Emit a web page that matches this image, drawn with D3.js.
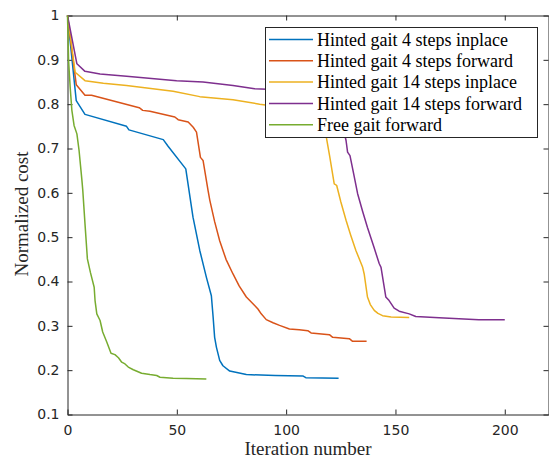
<!DOCTYPE html>
<html>
<head>
<meta charset="utf-8">
<script src="https://cdn.jsdelivr.net/npm/d3@7"></script>
<style>
body { margin: 0; background: #fff; }
.tick text { font-family: "DejaVu Sans", sans-serif; font-size: 14px; fill: #262626; }
</style>
</head>
<body>
<div id="chart-area"></div>
<script>
var width = 549,
	height = 458;
var serifFont = "'Liberation Serif', 'Times New Roman', Times, 'DejaVu Serif', serif";

var seriesNames = ["Hinted gait 4 steps inplace", "Hinted gait 4 steps forward",
	"Hinted gait 14 steps inplace", "Hinted gait 14 steps forward", "Free gait forward"];
var colors = ["#0072BD", "#D95319", "#EDB120", "#7E2F8E", "#77AC30"];

var xTicks = [0, 50, 100, 150, 200];
var yTicks = [0.1, 0.2, 0.3, 0.4, 0.5, 0.6, 0.7, 0.8, 0.9, 1];

// [iteration, normalized cost]
var blue = [[0,1],[4,0.808],[8,0.777],[27,0.75],[28.1,0.742],[43.8,0.72],[46,0.705],[54.1,0.654],
	[57.4,0.545],[60.5,0.47],[63.5,0.41],[65.8,0.368],[66.6,0.32],[67.3,0.274],[68.1,0.252],[69.6,0.222],
	[71.1,0.21],[74.2,0.198],[81.8,0.19],[95,0.188],[107.6,0.187],[109,0.183],[124,0.182]];
var orange = [[0,1],[4,0.844],[8,0.82],[11,0.82],[32.8,0.792],[34.4,0.786],[37.7,0.784],[49.1,0.771],
	[50.6,0.765],[55.2,0.76],[57.5,0.748],[59,0.737],[60.8,0.68],[62,0.673],[64.3,0.605],[65.1,0.583],
	[67.3,0.535],[69.6,0.492],[72.5,0.45],[75.7,0.417],[78.5,0.39],[81.8,0.365],[85.6,0.346],[87.1,0.338],
	[88.6,0.327],[90.9,0.314],[94,0.307],[97,0.301],[101.5,0.293],[106,0.291],[109.9,0.289],[111.4,0.284],
	[119.8,0.28],[121.3,0.274],[128.9,0.271],[130.4,0.265],[136.8,0.265]];
var yellow = [[0,1],[3.5,0.872],[8,0.853],[16.4,0.847],[27,0.842],[48.3,0.829],[60.5,0.817],[75.7,0.81],
	[87.9,0.8],[100,0.792],[110,0.785],[114,0.775],[116.5,0.76],[118.3,0.728],[120,0.68],[122,0.62],
	[123.1,0.617],[125,0.58],[127.4,0.538],[129.5,0.505],[131.9,0.47],[135,0.432],[135.7,0.417],
	[137.2,0.365],[138.5,0.348],[140.3,0.335],[142,0.328],[144.1,0.323],[148,0.32],[156.3,0.319]];
var purple = [[0,1],[4.3,0.891],[8,0.874],[14.9,0.868],[27,0.863],[49.9,0.853],[62,0.85],[75.7,0.842],
	[85.6,0.835],[100,0.832],[115,0.825],[121,0.81],[124.5,0.78],[127.4,0.718],[128.1,0.692],[129.2,0.684],
	[130.8,0.645],[132.7,0.598],[135,0.558],[137.2,0.522],[140,0.48],[142.6,0.44],[143.4,0.432],
	[145.6,0.365],[147.1,0.357],[149.4,0.34],[151.7,0.333],[156.3,0.327],[159.3,0.321],[170,0.318],
	[188.1,0.314],[200,0.314]];
var green = [[0,1],[0.5,0.898],[1.2,0.84],[2,0.786],[3,0.752],[4.3,0.733],[5.3,0.695],[6.6,0.628],[7,0.605],
	[8,0.53],[9.1,0.451],[10.5,0.42],[12.2,0.387],[12.6,0.357],[13.4,0.327],[14.9,0.312],[16.1,0.286],
	[18,0.263],[19.9,0.238],[21.7,0.235],[23.3,0.228],[24.8,0.218],[26.3,0.214],[27.8,0.207],[30.1,0.201],
	[33.9,0.193],[37.7,0.19],[40.8,0.188],[42.3,0.184],[48.3,0.182],[54.4,0.181],[63.5,0.18]];

var series = [blue, orange, yellow, purple, green];

var svg = d3.select("#chart-area").append("svg")
	.attr("width", width)
	.attr("height", height);

var x = d3.scaleLinear().domain([0, 220]).range([67.5, 548.5]);
var y = d3.scaleLinear().domain([0.1, 1]).range([414.5, 15.5]);

// axes (ticks point inward)
var xAxis = d3.axisBottom(x).tickValues(xTicks).tickSizeInner(-5).tickSizeOuter(0).tickPadding(11);
var yAxis = d3.axisLeft(y).tickValues(yTicks).tickSizeInner(-5).tickSizeOuter(0).tickPadding(8)
	.tickFormat(function(d) { return d === 1 ? "1" : d3.format(".1f")(d); });

svg.append("g").attr("transform", "translate(0," + y(0.1) + ")").call(xAxis);
svg.append("g").attr("transform", "translate(" + x(0) + ",0)").call(yAxis);
svg.append("g").attr("transform", "translate(0," + y(1) + ")")
	.call(d3.axisTop(x).tickValues(xTicks).tickSizeInner(-5).tickSizeOuter(0).tickFormat(""));
svg.append("g").attr("transform", "translate(" + x(220) + ",0)")
	.call(d3.axisRight(y).tickValues(yTicks).tickSizeInner(-5).tickSizeOuter(0).tickFormat(""));

svg.selectAll(".domain, .tick line").attr("stroke", "#262626");

// lines
var line = d3.line().x(function(d) { return x(d[0]); }).y(function(d) { return y(d[1]); });

svg.selectAll("path.series")
	.data(series)
	.enter()
	.append("path")
	.attr("class", "series")
	.attr("d", line)
	.attr("fill", "none")
	.attr("stroke", function(d, i) { return colors[i]; })
	.attr("stroke-width", 1.5)
	.attr("stroke-linejoin", "round");

// axis labels
svg.append("text")
	.attr("font-family", serifFont)
	.attr("font-size", 19)
	.attr("fill", "#262626")
	.attr("text-anchor", "middle")
	.attr("x", 308)
	.attr("y", 455)
	.text("Iteration number");

svg.append("text")
	.attr("font-family", serifFont)
	.attr("font-size", 19)
	.attr("fill", "#262626")
	.attr("text-anchor", "middle")
	.attr("transform", "translate(28,214) rotate(-90)")
	.text("Normalized cost");

// legend
var legend = svg.append("g");
legend.append("rect")
	.attr("x", 265.5).attr("y", 27.5)
	.attr("width", 272).attr("height", 110)
	.attr("fill", "#fff")
	.attr("stroke", "#262626");

var rows = legend.selectAll("g.row")
	.data(seriesNames)
	.enter()
	.append("g")
	.attr("class", "row")
	.attr("transform", function(d, i) { return "translate(0," + (39.5 + i * 21.3) + ")"; });

rows.append("line")
	.attr("x1", 269).attr("x2", 313)
	.attr("stroke", function(d, i) { return colors[i]; })
	.attr("stroke-width", 1.5);

rows.append("text")
	.attr("font-family", serifFont)
	.attr("font-size", 18)
	.attr("fill", "#000")
	.attr("x", 317)
	.attr("dy", "0.35em")
	.text(function(d) { return d; });
</script>
</body>
</html>
